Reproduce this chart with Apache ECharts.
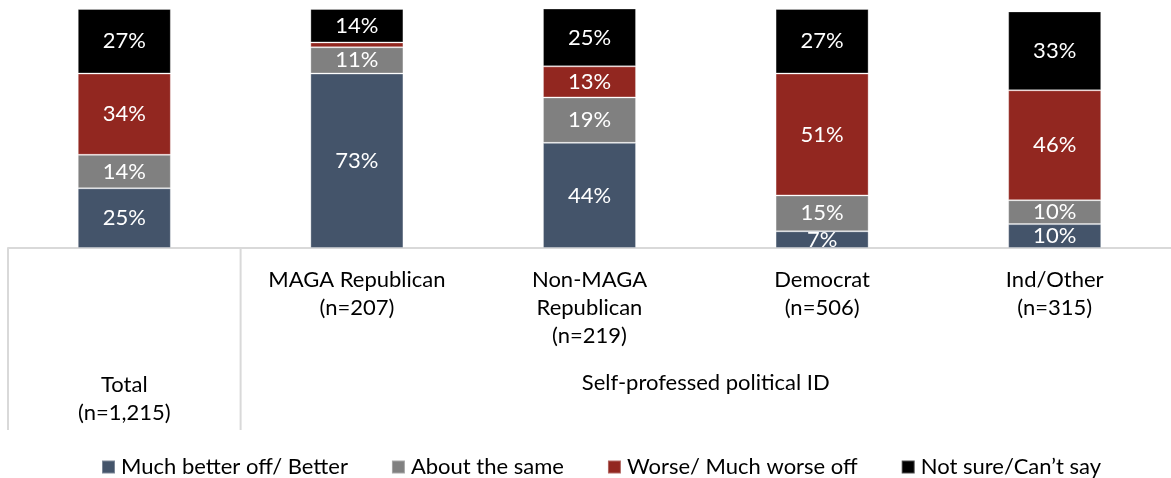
<!DOCTYPE html>
<html>
<head>
<meta charset="utf-8">
<script src="https://cdn.jsdelivr.net/npm/echarts@6/dist/echarts.min.js"></script>
<style>
html,body{margin:0;padding:0;background:#fff;}
#chart{width:1171px;height:478px;}
</style>
</head>
<body>
<div id="chart"></div>
<script>
const categories = ['Total', 'MAGA Republican', 'Non-MAGA Republican', 'Democrat', 'Ind/Other'];
const categoryLabels = ['Total\n(n=1,215)', 'MAGA Republican\n(n=207)', 'Non-MAGA\nRepublican\n(n=219)', 'Democrat\n(n=506)', 'Ind/Other\n(n=315)'];
const groupLabel = 'Self-professed political ID';
const seriesNames = ['Much better off/ Better', 'About the same', 'Worse/ Much worse off', 'Not sure/Can\u2019t say'];
const better = [25, 73, 44, 7, 10];
const same = [14, 11, 19, 15, 10];
const worse = [34, 2, 13, 51, 46];
const notSure = [27, 14, 25, 27, 33];

const FONT = 'Lato';
const FS = 22;
const colors = ['#44546A', '#808080', '#922720', '#000000'];
const values = [better, same, worse, notSure];

const chart = echarts.init(document.getElementById('chart'), null, {renderer: 'canvas'});

const series = values.map((arr, i) => ({
  name: seriesNames[i],
  type: 'bar',
  stack: 'all',
  barWidth: '40%',
  data: arr,
  itemStyle: {color: colors[i], borderColor: 'rgba(255,255,255,0.3)', borderWidth: 1},
  label: {
    show: true,
    position: 'inside',
    color: '#fff',
    fontFamily: FONT,
    fontSize: FS,
    formatter: p => (p.value >= 5 ? p.value + '%' : '')
  },
  emphasis: {disabled: true}
}));

const option = {
  animation: false,
  backgroundColor: '#fff',
  grid: {left: 8, top: 9, width: 1172, height: 239, containLabel: false},
  legend: {
    left: 96,
    top: 451,
    icon: 'rect',
    itemWidth: 13,
    itemHeight: 13,
    itemGap: 43,
    textStyle: {fontFamily: FONT, fontSize: FS, color: '#000', padding: [0, 0, 0, 1]},
    data: seriesNames
  },
  xAxis: {
    type: 'category',
    data: categories,
    axisLine: {show: true, lineStyle: {color: '#d9d9d9', width: 2}},
    axisTick: {show: false},
    axisLabel: {
      interval: 0,
      margin: 18,
      fontFamily: FONT,
      fontSize: FS,
      color: '#000',
      lineHeight: 28,
      formatter: (v, idx) => {
        const lbl = categoryLabels[idx];
        if (idx === 0) {
          return '{sp| }\n' + lbl.split('\n').map(s => '{t|' + s + '}').join('\n');
        }
        return lbl;
      },
      rich: {
        sp: {lineHeight: 105, fontSize: 10},
        t: {fontFamily: FONT, fontSize: FS, color: '#000', lineHeight: 28}
      }
    }
  },
  yAxis: {
    type: 'value',
    min: 0,
    max: 100,
    show: false,
    splitLine: {show: false}
  },
  series: series
};

chart.setOption(option);

// table-like separators and the group label, positioned from the axis scale
const x0 = chart.convertToPixel({xAxisIndex: 0}, categories[0]);
const x1 = chart.convertToPixel({xAxisIndex: 0}, categories[1]);
const xLast = chart.convertToPixel({xAxisIndex: 0}, categories[categories.length - 1]);
const step = x1 - x0;
const yBase = chart.convertToPixel({yAxisIndex: 0}, 0);
const leftEdge = x0 - step / 2;
const sepX = x0 + step / 2;
const rightEdge = xLast + step / 2;

chart.setOption({
  graphic: [
    {type: 'line', shape: {x1: leftEdge, y1: yBase, x2: leftEdge, y2: 430}, style: {stroke: '#d9d9d9', lineWidth: 2}, z: 10},
    {type: 'line', shape: {x1: sepX, y1: yBase, x2: sepX, y2: 430}, style: {stroke: '#d9d9d9', lineWidth: 2}, z: 10},
    {type: 'text', x: (sepX + rightEdge) / 2, y: 383, style: {text: groupLabel, fontFamily: FONT, fontSize: FS, fill: '#000', align: 'center', verticalAlign: 'middle'}, z: 10}
  ]
});
</script>
</body>
</html>
